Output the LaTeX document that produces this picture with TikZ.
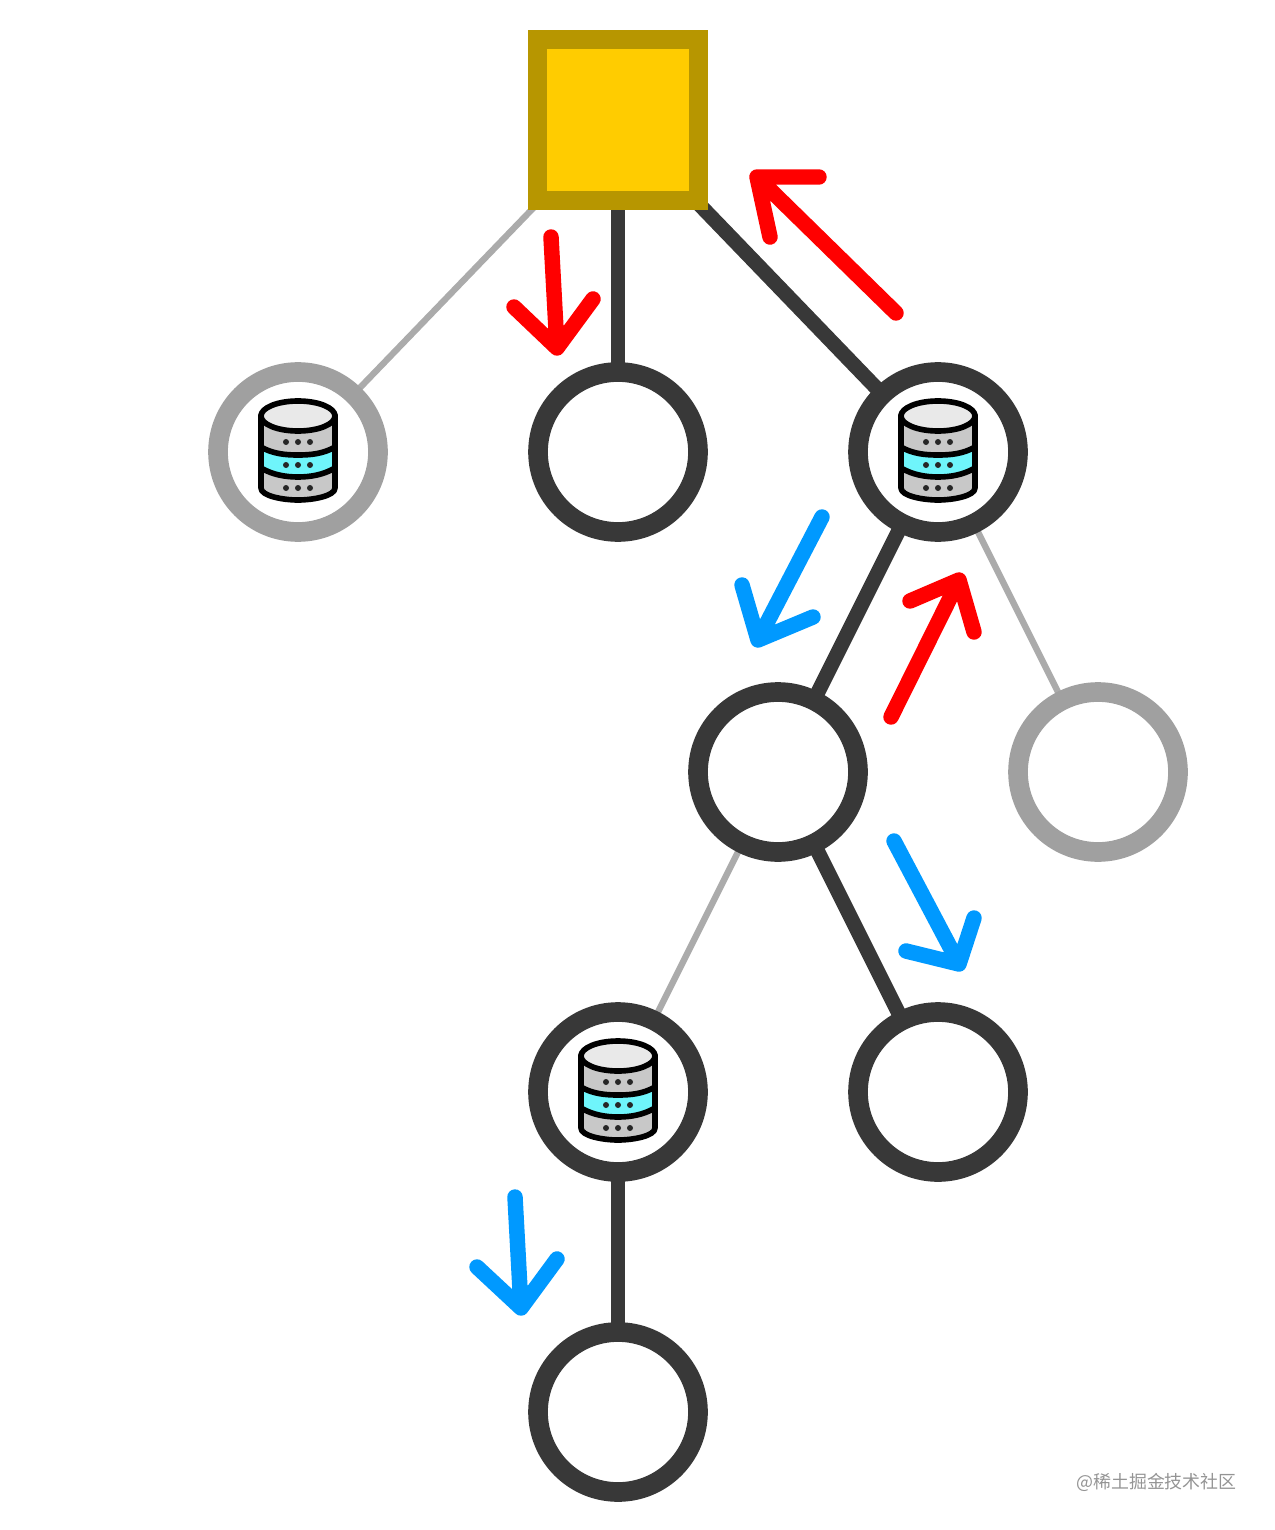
\documentclass[tikz,border=0pt]{standalone}
\usepackage{fontspec}
\newfontfamily\cjkwm{Noto Sans CJK SC}
\usetikzlibrary{backgrounds}
\definecolor{darkline}{HTML}{383838}
\definecolor{grayline}{HTML}{A0A0A0}
\definecolor{thinline}{HTML}{ABABAB}
\definecolor{rootfill}{HTML}{FFCC00}
\definecolor{rootedge}{HTML}{B79600}
\definecolor{arrowred}{HTML}{FF0000}
\definecolor{arrowblue}{HTML}{0099FF}
\definecolor{dbtop}{HTML}{E9E9E9}
\definecolor{dbbody}{HTML}{C8C8C8}
\definecolor{dbcyan}{HTML}{6FF5FB}
\tikzset{
  x=0.02cm, y=-0.02cm,
  rootbox/.style={draw=rootedge, fill=rootfill, line width=10.8pt, rectangle, minimum size=3.22cm, inner sep=0pt, outer sep=0pt},
  ringdark/.style={draw=darkline, fill=white, line width=11.2pt, circle, minimum size=3.2cm, inner sep=0pt, outer sep=0pt},
  ringgray/.style={draw=grayline, fill=white, line width=11.2pt, circle, minimum size=3.2cm, inner sep=0pt, outer sep=0pt},
  thick edge/.style={draw=darkline, line width=8.4pt},
  thin edge/.style={draw=thinline, line width=3.6pt},
  moveflow/.style={line width=8.8pt, line cap=round, line join=round},
  watermark/.style={text=black!42, font=\cjkwm\fontsize{10.2pt}{12pt}\selectfont, inner sep=0pt},
  pics/database/.style={code={
    \draw[fill=dbbody, line width=3.2pt, line join=round]
      (-37,-37) -- (-37,36) .. controls (-37,44) and (-15,48) .. (0,48)
      .. controls (15,48) and (37,44) .. (37,36) -- (37,-37) -- cycle;
    \draw[fill=dbcyan, line width=3.2pt, line join=round]
      (-37,-5) .. controls (-25,2) and (-12,3) .. (0,3)
      .. controls (12,3) and (25,2) .. (37,-5) -- (37,16)
      .. controls (25,23) and (12,25) .. (0,25)
      .. controls (-12,25) and (-25,23) .. (-37,16) -- cycle;
    \draw[fill=dbtop, line width=3.2pt] (0,-36) ellipse [x radius=37, y radius=15];
    \foreach \dy in {-10,13,36}
      \foreach \dx in {-12,0,12}
        \fill[black!85] (\dx,\dy) circle [radius=3];
  }},
}
\begin{document}
\begin{tikzpicture}
\useasboundingbox (0,0) rectangle (1274,1530);
\node[rootbox]  (root)  at (618,120)  {};
\node[ringgray] (left)  at (298,452)  {};
\node[ringdark] (mid)   at (618,452)  {};
\node[ringdark] (right) at (938,452)  {};
\node[ringdark] (c)     at (778,772)  {};
\node[ringgray] (gr)    at (1098,772) {};
\node[ringdark] (d)     at (618,1092) {};
\node[ringdark] (e)     at (938,1092) {};
\node[ringdark] (f)     at (618,1412) {};
\begin{scope}[on background layer]
  \draw[thin edge]  (root) -- (left);
  \draw[thick edge] (root) -- (mid);
  \draw[thick edge] (root) -- (right);
  \draw[thick edge] (right) -- (c);
  \draw[thin edge]  (right) -- (gr);
  \draw[thin edge]  (c) -- (d);
  \draw[thick edge] (c) -- (e);
  \draw[thick edge] (d) -- (f);
\end{scope}
\pic at (298,452) {database};
\pic at (938,452) {database};
\pic at (618,1092) {database};
% red moves
\coordinate (r1s) at (551,237);  \coordinate (r1t) at (557,348);
\coordinate (r1l) at (514,307);  \coordinate (r1r) at (593,299);
\coordinate (r2s) at (896,313);  \coordinate (r2t) at (757,177);
\coordinate (r2l) at (819,177);  \coordinate (r2r) at (770,237);
\coordinate (r3s) at (891,717);  \coordinate (r3t) at (959,580);
\coordinate (r3l) at (910,601);  \coordinate (r3r) at (974,632);
% blue moves
\coordinate (b1s) at (822,517);  \coordinate (b1t) at (758,640);
\coordinate (b1l) at (742,585);  \coordinate (b1r) at (813,617);
\coordinate (b2s) at (894,841);  \coordinate (b2t) at (959,964);
\coordinate (b2l) at (906,951);  \coordinate (b2r) at (974,918);
\coordinate (b3s) at (515,1197); \coordinate (b3t) at (521,1308);
\coordinate (b3l) at (477,1267); \coordinate (b3r) at (557,1259);
\foreach \a in {r1,r2,r3}
  \draw[moveflow, arrowred] (\a s) -- (\a t) (\a l) -- (\a t) -- (\a r);
\foreach \a in {b1,b2,b3}
  \draw[moveflow, arrowblue] (\a s) -- (\a t) (\a l) -- (\a t) -- (\a r);
\node[watermark, anchor=east] (wm) at (1237,1482) {@稀土掘金技术社区};
\end{tikzpicture}
\end{document}
